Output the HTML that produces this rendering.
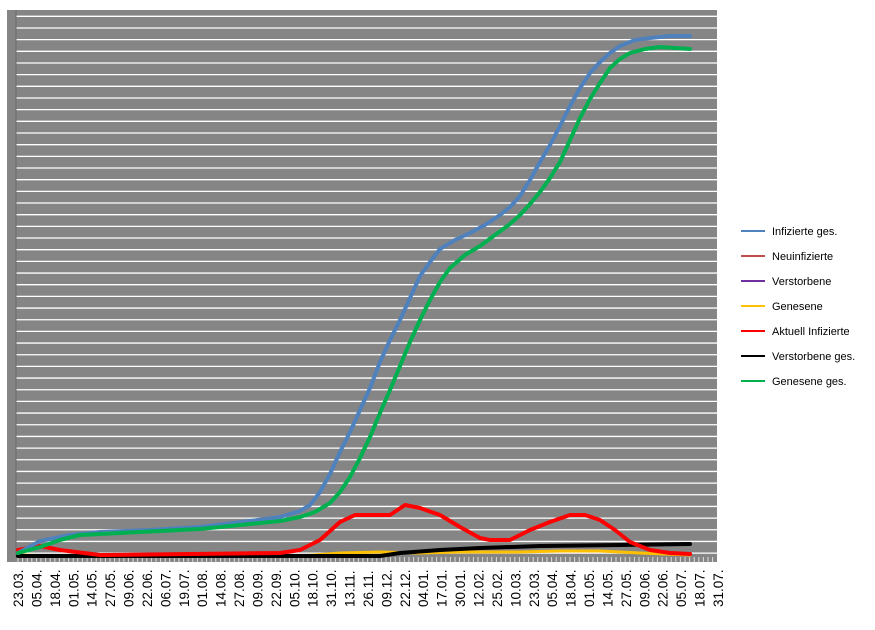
<!DOCTYPE html>
<html><head><meta charset="utf-8"><style>
body{margin:0;background:#fff;width:875px;height:625px;overflow:hidden}
text{font-family:"Liberation Sans",sans-serif}
</style></head><body>
<svg width="875" height="625" xmlns="http://www.w3.org/2000/svg">
<rect x="7" y="10" width="710" height="552" fill="#858585"/>
<g id="grid" stroke="#fff" stroke-width="1.3"></g>
<line x1="16" y1="10" x2="16" y2="557" stroke="#6a6a6a" stroke-width="1"/>
<g id="ticks" stroke="#ddd" stroke-width="1"></g>
<g fill="none" stroke-linejoin="round" stroke-linecap="round" stroke-width="4">
<polyline stroke="#ffc000" stroke-width="3" points="18,555 60,556 300,556 340,553 380,552 420,553 460,552 520,552 560,551 600,551 640,553 690,555"/>
<polyline stroke="#000" points="18,556 380,556 400,553 440,550 480,548 540,546 620,545 690,544"/>
<polyline stroke="#ff0000" points="18,550 40,546 60,550 100,555 280,553 300,550 320,540 340,522 355,515 390,515 405,505 420,508 440,515 460,527 480,538 490,540 510,540 530,530 550,522 570,515 585,515 600,520 615,530 630,542 650,550 670,553 690,554"/>
<polyline stroke="#4f81bd" points="18,553 40,541 70,535 100,532 150,530 200,527 250,521 280,517 300,511 310,505 320,492 330,474 340,452 350,432 360,410 370,388 380,362 390,340 400,320 410,298 420,276 430,262 440,249 455,240 470,233 485,225 500,215 510,207 520,196 530,180 540,162 550,145 560,126 570,106 580,88 590,73 600,62 610,53 620,46 635,40 650,38 670,36 690,36"/>
<polyline stroke="#00b050" points="18,553 40,547 60,540 80,535 120,533 160,531 200,529 250,524 280,521 300,517 315,512 330,503 340,492 350,477 360,458 370,437 380,413 390,390 400,366 410,342 420,320 430,300 440,282 450,268 465,255 480,246 495,235 510,224 520,215 530,204 540,192 550,178 560,162 570,140 580,118 590,99 600,83 610,68 620,59 630,53 645,49 660,47 690,49"/>
</g>
<g id="xl" font-size="13.5" fill="#000"></g>
<g font-size="11" fill="#000">
<line x1="741" y1="231" x2="765" y2="231" stroke="#4f81bd" stroke-width="2"/><text x="772" y="235">Infizierte ges.</text>
<line x1="741" y1="256" x2="765" y2="256" stroke="#c0504d" stroke-width="2"/><text x="772" y="260">Neuinfizierte</text>
<line x1="741" y1="281" x2="765" y2="281" stroke="#7030a0" stroke-width="2"/><text x="772" y="285">Verstorbene</text>
<line x1="741" y1="306" x2="765" y2="306" stroke="#ffc000" stroke-width="2"/><text x="772" y="310">Genesene</text>
<line x1="741" y1="331" x2="765" y2="331" stroke="#ff0000" stroke-width="2"/><text x="772" y="335">Aktuell Infizierte</text>
<line x1="741" y1="356" x2="765" y2="356" stroke="#000" stroke-width="2"/><text x="772" y="360">Verstorbene ges.</text>
<line x1="741" y1="381" x2="765" y2="381" stroke="#00b050" stroke-width="2"/><text x="772" y="385">Genesene ges.</text>
</g>
</svg>
<script>
var ns="http://www.w3.org/2000/svg";
var g=document.getElementById("grid");
for(var i=0;i<47;i++){var y=16.3+i*11.67;var l=document.createElementNS(ns,"line");l.setAttribute("x1",16);l.setAttribute("x2",717);l.setAttribute("y1",y);l.setAttribute("y2",y);g.appendChild(l);}
var t=document.getElementById("ticks");
for(var x=18;x<=717;x+=4.6){var l=document.createElementNS(ns,"line");l.setAttribute("x1",x);l.setAttribute("x2",x);l.setAttribute("y1",557);l.setAttribute("y2",562);t.appendChild(l);}
var labs="23.03. 05.04. 18.04. 01.05. 14.05. 27.05. 09.06. 22.06. 06.07. 19.07. 01.08. 14.08. 27.08. 09.09. 22.09. 05.10. 18.10. 31.10. 13.11. 26.11. 09.12. 22.12. 04.01. 17.01. 30.01. 12.02. 25.02. 10.03. 23.03. 05.04. 18.04. 01.05. 14.05. 27.05. 09.06. 22.06. 05.07. 18.07. 31.07.".split(" ");
var xl=document.getElementById("xl");
labs.forEach(function(s,i){var x=18+i*18.42+5;var e=document.createElementNS(ns,"text");e.setAttribute("transform","translate("+x+",607) rotate(-90)");e.textContent=s;xl.appendChild(e);});
</script>
</body></html>
